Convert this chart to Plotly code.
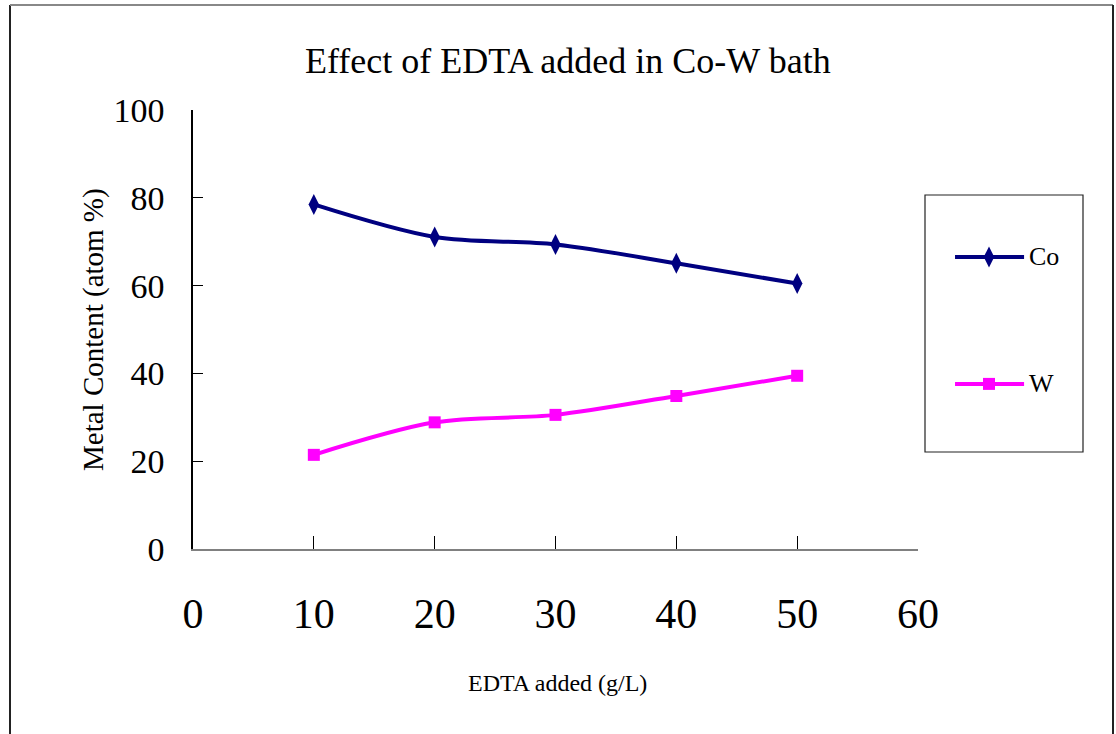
import plotly.graph_objects as go

# EDTA concentration in the Co-W plating bath and resulting deposit composition
edta = [10, 20, 30, 40, 50]
co_content = [78.5, 71.1, 69.4, 65.1, 60.5]
w_content = [21.5, 28.9, 30.6, 34.9, 39.5]

x_ticks = [0, 10, 20, 30, 40, 50, 60]
y_ticks = [0, 20, 40, 60, 80, 100]

W_PX, H_PX = 1116, 734
FONT = "Liberation Serif"
CO_COLOR = "#000080"
W_COLOR = "#FF00FF"


def px_x(px):
    return px / W_PX


def px_y(py):
    return (H_PX - py) / H_PX


fig = go.Figure()

fig.add_trace(go.Scatter(
    x=edta, y=co_content, name="Co", mode="lines+markers",
    line=dict(color=CO_COLOR, width=4, shape="spline", smoothing=0.9),
    marker=dict(symbol="diamond-tall", size=15, color=CO_COLOR),
    cliponaxis=False, showlegend=False,
))
fig.add_trace(go.Scatter(
    x=edta, y=w_content, name="W", mode="lines+markers",
    line=dict(color=W_COLOR, width=4, shape="spline", smoothing=0.9),
    marker=dict(symbol="square", size=12, color=W_COLOR),
    cliponaxis=False, showlegend=False,
))

# Legend key: drawn on its own small axes so the sample line and marker
# use the same styling as the series
legend_rows = [("Co", CO_COLOR, "diamond-tall", 15, 0.759),
               ("W", W_COLOR, "square", 12, 0.265)]
for name, color, symbol, size, row_y in legend_rows:
    fig.add_trace(go.Scatter(
        x=[0.19, 0.405, 0.627], y=[row_y] * 3, mode="lines+markers",
        line=dict(color=color, width=4),
        marker=dict(symbol=symbol, size=size, color=color, opacity=[0, 1, 0]),
        xaxis="x2", yaxis="y2", showlegend=False, hoverinfo="skip",
    ))

annotations = [
    dict(text="Effect of EDTA added in Co-W bath", x=px_x(568), y=px_y(61),
         xref="paper", yref="paper", showarrow=False,
         font=dict(family=FONT, size=36, color="black"),
         xanchor="center", yanchor="middle"),
    dict(text="Metal Content (atom %)", x=px_x(93), y=px_y(330),
         xref="paper", yref="paper", showarrow=False, textangle=-90,
         font=dict(family=FONT, size=29, color="black"),
         xanchor="center", yanchor="middle"),
    dict(text="EDTA added (g/L)", x=px_x(557), y=px_y(683),
         xref="paper", yref="paper", showarrow=False,
         font=dict(family=FONT, size=24, color="black"),
         xanchor="center", yanchor="middle"),
]
for name, color, symbol, size, row_y in legend_rows:
    annotations.append(dict(
        text=name, x=0.645, y=row_y, xref="x2", yref="y2", showarrow=False,
        font=dict(family=FONT, size=26, color="black"),
        xanchor="left", yanchor="middle"))

shapes = [
    # outer frame (left, top, right edges)
    dict(type="line", xref="paper", yref="paper", x0=px_x(10), x1=px_x(10),
         y0=-0.02, y1=px_y(5), line=dict(color="#222", width=2)),
    dict(type="line", xref="paper", yref="paper", x0=px_x(10), x1=px_x(1113),
         y0=px_y(5), y1=px_y(5), line=dict(color="#888", width=2)),
    dict(type="line", xref="paper", yref="paper", x0=px_x(1113), x1=px_x(1113),
         y0=-0.02, y1=px_y(5), line=dict(color="#222", width=2)),
    # legend box
    dict(type="rect", xref="paper", yref="paper", x0=px_x(925), x1=px_x(1083),
         y0=px_y(452), y1=px_y(195), line=dict(color="#222", width=1.2),
         fillcolor="rgba(0,0,0,0)"),
]

fig.update_layout(
    width=W_PX, height=H_PX, autosize=False,
    margin=dict(l=0, r=0, t=0, b=0, pad=0, autoexpand=False),
    showlegend=False,
    paper_bgcolor="white", plot_bgcolor="white",
    font=dict(family=FONT, color="black"),
    annotations=annotations, shapes=shapes,
    xaxis=dict(
        domain=[px_x(193), px_x(918)], range=[0, 60], automargin=False,
        tickmode="array", tickvals=x_ticks, ticktext=[str(v) for v in x_ticks],
        showgrid=False, zeroline=False,
        showline=True, linecolor="#808080", linewidth=2,
        ticks="inside", ticklen=13, tickwidth=1, tickcolor="black",
        tickfont=dict(family=FONT, size=42, color="black"),
        ticklabelstandoff=26, anchor="y",
    ),
    yaxis=dict(
        domain=[px_y(549.3), px_y(110)], range=[0, 100], automargin=False,
        tickmode="array", tickvals=y_ticks, ticktext=[str(v) for v in y_ticks],
        showgrid=False, zeroline=False,
        showline=True, linecolor="black", linewidth=1.5,
        ticks="inside", ticklen=10, tickwidth=1, tickcolor="black",
        tickfont=dict(family=FONT, size=34, color="black"),
        ticklabelstandoff=20, anchor="x",
    ),
    xaxis2=dict(domain=[px_x(925), px_x(1083)], range=[0, 1], visible=False,
                fixedrange=True, anchor="y2", automargin=False),
    yaxis2=dict(domain=[px_y(452), px_y(195)], range=[0, 1], visible=False,
                fixedrange=True, anchor="x2", automargin=False),
)

fig.write_html("out.html")
